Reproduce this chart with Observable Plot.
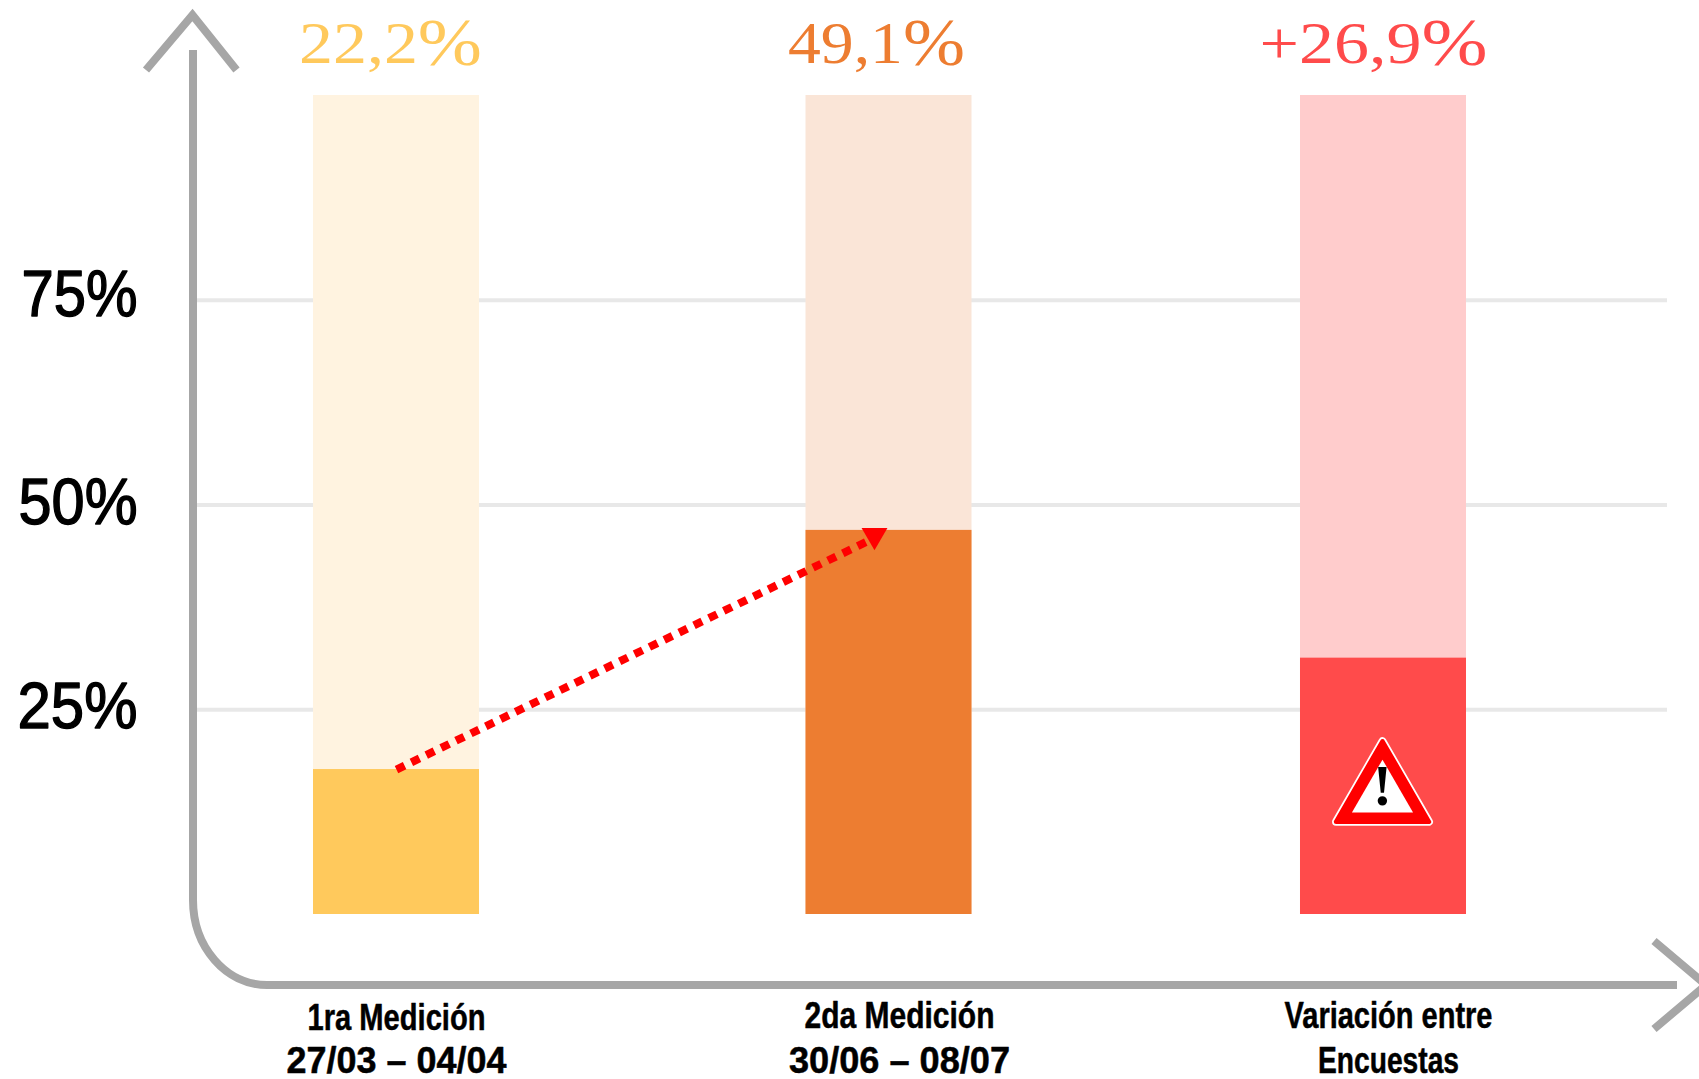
<!DOCTYPE html>
<html lang="es">
<head>
<meta charset="utf-8">
<title>Medición</title>
<style>html,body{margin:0;padding:0;background:#fff}svg{display:block}</style>
<script src="https://cdn.jsdelivr.net/npm/d3@7"></script>
<script src="https://cdn.jsdelivr.net/npm/@observablehq/plot@0.6"></script>
</head>
<body>
<div id="chart"></div>
<script>
const categories = ["m1", "m2", "var"];
const barValues = [17.7, 46.9, 31.3];
const fullValue = 100;
const valueLabels = ["22,2%", "49,1%", "+26,9%"];
const labelLine1 = ["1ra Medición", "2da Medición", "Variación entre"];
const labelLine2 = ["27/03 – 04/04", "30/06 – 08/07", "Encuestas"];
const yTicks = [25, 50, 75];
const paleColors = ["#FFF3E0", "#FAE5D7", "#FFCCCC"];
const darkColors = ["#FFC95C", "#ED7D31", "#FF4B4B"];
const warningLevel = 14.6;

const rows = categories.map((c, i) => ({c, v: barValues[i], pale: paleColors[i], dark: darkColors[i], label: valueLabels[i], l1: labelLine1[i], l2: labelLine2[i]}));

const barNudge = [0, -1, 0];
const labelNudge = [-6, -13.5, -10];
const tickNudge = [0, 9.5, 5];
const yLabelDy = [-3, -2, -5.5];

const barMarks = rows.flatMap((r, i) => [
  Plot.barY([r], {x: "c", y: () => fullValue, fill: "pale", dx: barNudge[i]}),
  Plot.barY([r], {x: "c", y: "v", fill: "dark", dx: barNudge[i]})
]);
const valueLabelMarks = rows.map((r, i) => Plot.text([r], {
  x: "c", y: fullValue, text: "label", fill: r.dark, dx: labelNudge[i], dy: -33,
  lineAnchor: "bottom", fontSize: 60, fontFamily: "Liberation Serif", className: "val"
}));
const tickText = {lineAnchor: "bottom", fontSize: 37, fontWeight: 700, fontFamily: "Liberation Sans", fill: "#000", stroke: "#000", strokeWidth: 0.5, className: "tl"};
const tickLabelMarks = rows.flatMap((r, i) => [
  Plot.text([r], {x: "c", y: 0, text: "l1", dx: tickNudge[i], dy: i === 0 ? 115 : 113, ...tickText}),
  Plot.text([r], {x: "c", y: 0, text: "l2", dx: tickNudge[i], dy: 158, ...tickText})
]);
const yAxisMarks = yTicks.map((t, i) => Plot.axisY([t], {
  anchor: "left", tickSize: 0, tickPadding: 60, tickFormat: d => d + "%", dy: yLabelDy[i],
  fontSize: 65, fontWeight: 400, fontFamily: "Liberation Sans", fill: "#000",
  textStroke: "#000", textStrokeWidth: 1.4, label: null, className: "yl"
}));

function axisFrame() {
  const g = d3.create("svg:g").attr("fill", "none").attr("stroke", "#A6A6A6").attr("stroke-width", 8);
  g.append("path").attr("d", "M193,50 V900 C193,947 226,985 267,985 H1677");
  g.append("path").attr("stroke-miterlimit", 10).attr("d", "M146,70 L192.5,15 L236.5,70");
  g.append("path").attr("stroke-miterlimit", 10).attr("d", "M1654,941 L1706,985 L1654,1029");
  return g.node();
}

const dashPattern = d3.range(31).map(() => "9,7.53").join(",") + ",9,100";

const chart = Plot.plot({
  width: 1699, height: 1079,
  marginLeft: 197, marginRight: 32, marginTop: 95, marginBottom: 165,
  style: {background: "#fff", overflow: "hidden"},
  x: {type: "band", domain: categories, range: [313, 1466], paddingInner: 0.6636, paddingOuter: 0, round: false, axis: null},
  y: {domain: [0, fullValue], range: [914, 95], axis: null},
  marks: [
    Plot.ruleY(yTicks, {stroke: "#E8E8E8", strokeWidth: 4}),
    ...barMarks,
    axisFrame,
    ...yAxisMarks,
    Plot.line(rows.slice(0, 2), {x: "c", y: "v", stroke: "#FF0000", strokeWidth: 8, strokeDasharray: dashPattern, strokeLinecap: "butt"}),
    Plot.dot(rows.slice(1, 2), {x: "c", y: "v", symbol: "triangle", r: 9.6, rotate: 180, fill: "#FF0000", stroke: "none", dx: -15.5, dy: 5}),
    Plot.dot(rows.slice(2, 3), {x: "c", y: () => warningLevel, symbol: "triangle", r: 34.5, fill: "#fff", stroke: "#fff", strokeWidth: 8, strokeLinejoin: "round", dx: -1}),
    Plot.dot(rows.slice(2, 3), {x: "c", y: () => warningLevel, symbol: "triangle", r: 34.5, fill: "#FF0000", stroke: "#FF0000", strokeWidth: 4.5, strokeLinejoin: "round", dx: -1}),
    Plot.dot(rows.slice(2, 3), {x: "c", y: () => warningLevel, symbol: "triangle", r: 22.7, fill: "#fff", stroke: "none", dx: -1}),
    Plot.text(rows.slice(2, 3), {x: "c", y: () => warningLevel, text: () => "!", fontSize: 58, fontWeight: 700, fontFamily: "Liberation Serif", fill: "#000", dx: -1, dy: -8}),
    ...valueLabelMarks,
    ...tickLabelMarks
  ]
});

document.getElementById("chart").append(chart);

const fit = (cls, lengths) => d3.select(chart).selectAll(`g.${cls} text`).each(function(_, i) {
  d3.select(this).attr("textLength", lengths[i]).attr("lengthAdjust", "spacingAndGlyphs");
});
d3.select(chart).selectAll("g.val text").each(function() {
  const t = d3.select(this), s = t.text();
  t.text(null);
  t.append("tspan").attr("font-size", 60).text(s.slice(0, -1));
  t.append("tspan").attr("font-size", 68).attr("dy", 2).text("%");
});
fit("val", [183, 177, 228]);
fit("tl", [178, 220, 190, 221, 208, 141]);
fit("yl", [120, 119, 116]);
</script>
</body>
</html>
